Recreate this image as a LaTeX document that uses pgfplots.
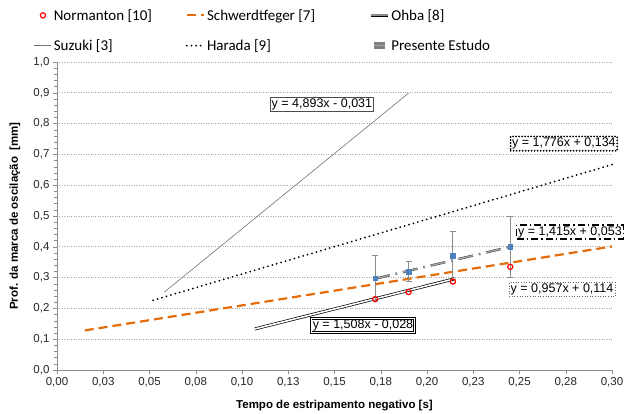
\documentclass[border=0pt]{standalone}
\usepackage{pgfplots}
\pgfplotsset{compat=1.18}
\usepackage{fontspec}
\setmainfont{Liberation Sans}
\newfontfamily\calibri{Carlito}
\definecolor{orng}{HTML}{E46C0A}
\definecolor{blu}{HTML}{4F81BD}
\definecolor{axgray}{HTML}{8C8C8C}
\begin{document}
\begin{tikzpicture}[x=1pt,y=1pt]
\path[use as bounding box] (0,0) rectangle (627,414);
\begin{axis}[
  at={(57pt,44pt)}, anchor=south west,
  scale only axis, width=555pt, height=308pt,
  xmin=0, xmax=0.30, ymin=0, ymax=1.0,
  clip=false,
  axis lines*=left,
  axis line style={axgray},
  every tick/.style={axgray},
  tick align=outside,
  major tick length=4pt, minor tick length=3pt,
  xtick={0,0.025,...,0.301},
  xticklabels={{0,00},{0,03},{0,05},{0,08},{0,10},{0,13},{0,15},{0,18},{0,20},{0,23},{0,25},{0,28},{0,30}},
  ytick={0,0.1,...,1.01},
  yticklabels={{0,0},{0,1},{0,2},{0,3},{0,4},{0,5},{0,6},{0,7},{0,8},{0,9},{1,0}},
  minor y tick num=4,
  ymajorgrids,
  major grid style={black!35, dotted, line width=0.6pt},
  tick label style={font=\fontsize{11.5}{13}\selectfont, text=black!85},
  xlabel={Tempo de estripamento negativo [s]},
  ylabel={Prof. da marca de oscilação\ \ [mm]},
  label style={font=\fontsize{11.5}{13}\selectfont\bfseries},
  xlabel style={at={(axis description cs:0.5,-0.114)}, anchor=center},
  ylabel style={at={(axis description cs:-0.0757,0.5)}, anchor=center, rotate=0},
  legend columns=3,
  legend cell align=left,
  legend style={at={(axis description cs:-0.047,1.185)}, anchor=north west, draw=none, fill=none,
    font=\fontsize{15}{17}\selectfont\calibri, row sep=14pt,
    /tikz/every even column/.append style={column sep=0pt}},
]
% Normanton
\addplot[only marks, mark=o, mark size=2.6pt, red, line width=1.2pt] coordinates {
(0.172,0.230) (0.190,0.253) (0.214,0.287) (0.245,0.335)};
\addlegendentry{\makebox[130pt][l]{Normanton [10]}}
% Schwerdtfeger
\addplot[orng, line width=2.2pt, dash pattern=on 9pt off 5pt] coordinates {(0.015,0.1284) (0.300,0.4011)};
\addlegendentry{\makebox[160pt][l]{Schwerdtfeger [7]}}
% Ohba
\addplot[black, line width=0.7pt, double=white, double distance=1.6pt,
  legend image code/.code={\draw[black, line width=0.7pt, double=black!45, double distance=1.8pt] (0cm,0cm) -- (0.6cm,0cm);}]
  coordinates {(0.107,0.1334) (0.215,0.2962)};
\addlegendentry{Ohba [8]}
% Suzuki
\addplot[black!55, line width=0.6pt] coordinates {(0.058,0.2528) (0.190,0.8987)};
\addlegendentry{\makebox[130pt][l]{Suzuki [3]}}
% Harada
\addplot[black, line width=2pt, line cap=round, dash pattern=on 0pt off 4.6pt] coordinates {(0.052,0.2264) (0.300,0.6668)};
\addlegendentry{\makebox[160pt][l]{Harada [9]}}
% Presente Estudo
\addplot[black!75, line width=0.5pt, double=black!35, double distance=1.3pt, dash pattern=on 15pt off 6pt on 1.5pt off 6pt,
  legend image code/.code={\draw[black!50, line width=3pt] (0.1cm,0cm) -- (0.5cm,0cm);}]
  coordinates {(0.172,0.2964) (0.245,0.4)};
\addlegendentry{Presente Estudo}
% Presente points with error bars
\addplot[forget plot, only marks, mark=square*, mark size=2.3pt, mark options={fill=blu, draw=blu},
  error bars/.cd, y dir=both, y explicit,
  error bar style={axgray, line width=0.9pt},
  error mark options={rotate=90, axgray, mark size=3pt, line width=0.9pt}]
  coordinates {
(0.172,0.298) +- (0,0.073)
(0.190,0.320) +- (0,0.033)
(0.214,0.372) +- (0,0.078)
(0.245,0.400) +- (0,0.100)};
% equation boxes
\node[draw=black!70, fill=white, inner sep=1.5pt, line width=0.5pt, font=\fontsize{12.5}{14}\selectfont] at (axis cs:0.1432,0.862) {y = 4,893x - 0,031};
\node[draw=black, fill=white, inner sep=1.5pt, line width=2pt, line cap=round, dash pattern=on 0pt off 3pt, font=\fontsize{12.5}{14}\selectfont] at (axis cs:0.274,0.735) {y = 1,776x + 0,134};
\node[draw=black, fill=white, inner sep=1.5pt, line width=1.5pt, dash pattern=on 7pt off 3pt on 1.5pt off 3pt, font=\fontsize{12.5}{14}\selectfont] at (axis cs:0.2773,0.448) {y = 1,415x + 0,053};
\node[draw=black!60, fill=white, inner sep=1.5pt, line width=0.6pt, dotted, font=\fontsize{12.5}{14}\selectfont] at (axis cs:0.273,0.261) {y = 0,957x + 0,114};
\node[draw=black, fill=white, inner sep=1.5pt, line width=0.6pt, double=white, double distance=1.2pt, font=\fontsize{12.5}{14}\selectfont] at (axis cs:0.1654,0.1445) {y = 1,508x - 0,028};
\end{axis}
\end{tikzpicture}
\end{document}
